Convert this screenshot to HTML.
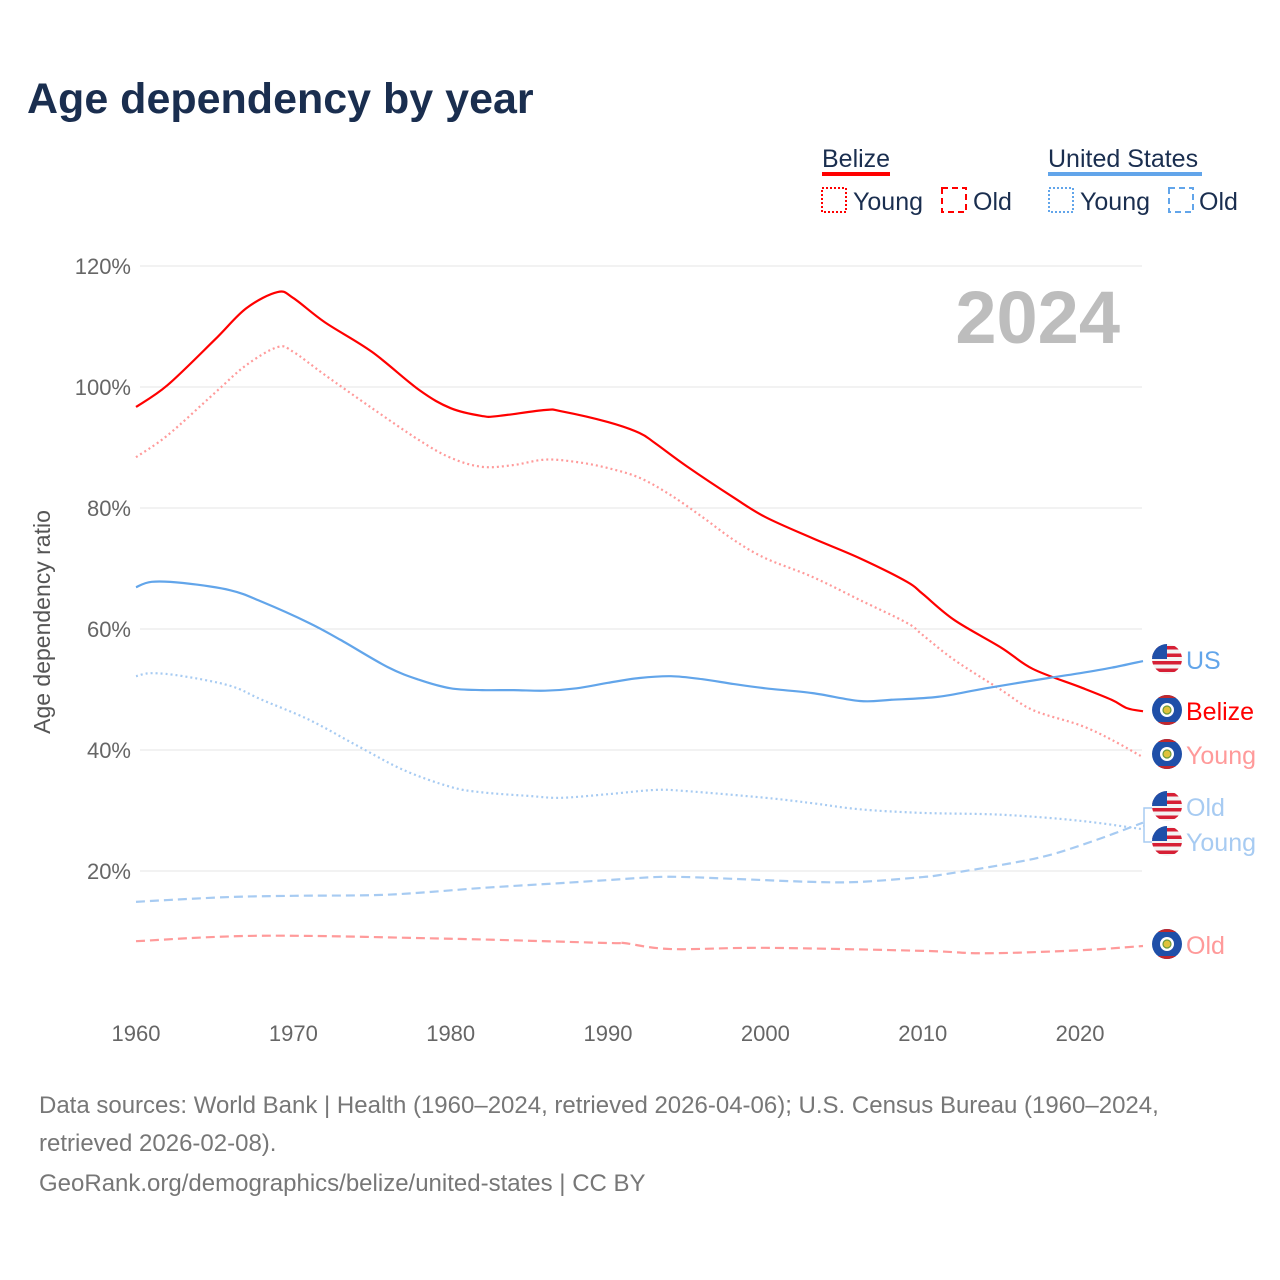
<!DOCTYPE html>
<html><head><meta charset="utf-8"><style>
body{margin:0;background:#fff;font-family:"Liberation Sans",sans-serif}
#wrap{position:relative;width:1280px;height:1280px;overflow:hidden}
</style></head><body>
<div id="wrap">
<svg id="chart" width="1280" height="1280" style="position:absolute;left:0;top:0">
<defs id="defs"></defs>
<text x="27" y="113" font-size="43" font-weight="bold" fill="#1a2e4f">Age dependency by year</text>
<g font-size="25" fill="#1a2e4f">
 <text x="822" y="167">Belize</text>
 <rect x="822" y="172" width="68" height="4" fill="#f00"/>
 <rect x="822" y="188" width="24" height="24" fill="none" stroke="#f00" stroke-width="2" stroke-dasharray="2 2"/>
 <text x="853" y="210">Young</text>
 <rect x="942" y="188" width="24" height="24" fill="none" stroke="#f00" stroke-width="2" stroke-dasharray="6 4"/>
 <text x="973" y="210">Old</text>
 <text x="1048" y="167">United States</text>
 <rect x="1048" y="172" width="154" height="4" fill="#62a5ea"/>
 <rect x="1049" y="188" width="24" height="24" fill="none" stroke="#62a5ea" stroke-width="2" stroke-dasharray="2 2"/>
 <text x="1080" y="210">Young</text>
 <rect x="1169" y="188" width="24" height="24" fill="none" stroke="#62a5ea" stroke-width="2" stroke-dasharray="6 4"/>
 <text x="1199" y="210">Old</text>
</g>
<text x="1120" y="343" font-size="74" font-weight="bold" fill="#bdbdbd" text-anchor="end">2024</text>
<text transform="translate(50,622) rotate(-90)" font-size="23" fill="#555" text-anchor="middle">Age dependency ratio</text>
<g id="grid"></g><g id="lines"></g><g id="ends"></g>
<g font-size="24" fill="#777">
<text x="39" y="1113">Data sources: World Bank | Health (1960–2024, retrieved 2026-04-06); U.S. Census Bureau (1960–2024,</text>
<text x="39" y="1151">retrieved 2026-02-08).</text>
<text x="39" y="1191">GeoRank.org/demographics/belize/united-states | CC BY</text>
</g>
</svg>
</div>
<script>
const yTicks=[20,40,60,80,100,120];
const xTicks=[1960,1970,1980,1990,2000,2010,2020];
const belizeTotalYears=[1960,1962,1965,1967,1969,1970,1972,1975,1978,1980,1982,1983,1986,1987,1990,1992,1993,1995,1998,2000,2003,2006,2009,2010,2012,2015,2017,2020,2022,2023,2024];
const belizeTotal=[96.7,100.3,107.8,113,115.7,114.7,110.7,105.8,99.5,96.5,95.2,95.2,96.2,96,94.2,92.4,90.7,86.9,81.7,78.5,75,71.7,67.8,65.8,61.5,56.9,53.4,50.4,48.3,46.9,46.4];
const belizeYoungYears=[1960,1962,1965,1967,1969,1970,1972,1975,1978,1980,1982,1984,1986,1988,1990,1992,1994,1996,1998,2000,2003,2006,2009,2010,2012,2015,2017,2020,2022,2024];
const belizeYoung=[88.4,92,99,103.6,106.6,105.8,102,96.5,91.2,88.3,86.8,87.1,88,87.6,86.6,85,82.1,78.5,74.7,71.7,68.6,64.8,61,59,54.9,49.9,46.6,44.1,41.7,38.8];
const belizeOldYears=[1960,1968,1980,1990,1991,1994,2000,2010,2014,2020,2024];
const belizeOld=[8.4,9.3,8.8,8.1,8.1,7.1,7.3,6.8,6.4,6.9,7.6];
const usTotalYears=[1960,1961,1963,1966,1968,1971,1973,1976,1978,1980,1982,1984,1986,1988,1990,1992,1994,1996,1998,2000,2003,2006,2008,2011,2014,2018,2020,2022,2024];
const usTotal=[66.9,67.8,67.6,66.4,64.5,61,58.2,53.7,51.6,50.2,49.9,49.9,49.8,50.2,51.1,51.9,52.2,51.7,50.9,50.2,49.4,48.1,48.3,48.8,50.2,51.9,52.7,53.6,54.7];
const usYoungYears=[1960,1961,1963,1966,1968,1971,1974,1977,1980,1982,1985,1987,1990,1993,1995,2000,2003,2006,2010,2015,2020,2024];
const usYoung=[52.2,52.7,52.2,50.6,48.3,45,40.8,36.7,33.9,33,32.4,32.1,32.7,33.4,33.2,32.1,31.2,30.2,29.6,29.3,28.3,26.9];
const usOldYears=[1960,1962,1966,1970,1975,1978,1982,1987,1990,1993,1995,1998,2003,2006,2010,2011,2015,2018,2021,2024];
const usOld=[14.9,15.2,15.7,15.9,16,16.4,17.2,18,18.5,19,19,18.7,18.2,18.2,19,19.3,21,22.6,25.1,28];
const endLabels=["US","Belize","Young","Old","Young","Old"];

const NS="http://www.w3.org/2000/svg";
const X=yr=>136+(yr-1960)*(1143-136)/64;
const Y=v=>992-v*6.05;
function mk(tag,attrs,parent){const e=document.createElementNS(NS,tag);for(const k in attrs)e.setAttribute(k,attrs[k]);parent.appendChild(e);return e;}
const grid=document.getElementById('grid');
yTicks.forEach(t=>{
 const l=mk('line',{x1:140,x2:1142,y1:Y(t),y2:Y(t),stroke:'#e6e6e6','stroke-width':1},grid);
 
 
 const tx=mk('text',{x:131,y:Y(t)+8,'text-anchor':'end','font-size':22,fill:'#666'},grid);
 tx.textContent=t+'%';
 
 
});
xTicks.forEach(t=>{
 const tx=mk('text',{x:X(t),y:1041,'text-anchor':'middle','font-size':22,fill:'#666'},grid);
 tx.textContent=t;
 
 
});
function path(xs,vs){
 const p=xs.map((x,i)=>[X(x),Y(vs[i])]);
 let d='M'+p[0][0]+','+p[0][1];
 for(let i=0;i<p.length-1;i++){
  const p0=p[Math.max(0,i-1)],p1=p[i],p2=p[i+1],p3=p[Math.min(p.length-1,i+2)];
  const c1=[p1[0]+(p2[0]-p0[0])/6,p1[1]+(p2[1]-p0[1])/6];
  const c2=[p2[0]-(p3[0]-p1[0])/6,p2[1]-(p3[1]-p1[1])/6];
  d+=' C'+c1+' '+c2+' '+p2;
 }
 return d;
}
const lines=document.getElementById('lines');
const series=[
 ['belize-total-line',belizeTotalYears,belizeTotal,'#ff0000',''],
 ['belize-young-line',belizeYoungYears,belizeYoung,'#ff9a9a','2 3'],
 ['belize-old-line',belizeOldYears,belizeOld,'#ff9a9a','9 5'],
 ['us-total-line',usTotalYears,usTotal,'#62a5ea',''],
 ['us-young-line',usYoungYears,usYoung,'#a7cbf2','2 3'],
 ['us-old-line',usOldYears,usOld,'#a7cbf2','9 5']
];
series.forEach(s=>{
 const e=mk('path',{d:path(s[1],s[2]),fill:'none',stroke:s[3],'stroke-width':2.2,'stroke-dasharray':s[4]},lines);
 
 
});
const ends=document.getElementById('ends');
const defs=document.getElementById('defs');
const labelYs=[660,711,755,807,842,945];
const colors=['#62a5ea','#ff0000','#ff9a9a','#a7cbf2','#a7cbf2','#ff9a9a'];
const isUS=[true,false,false,true,true,false];
endLabels.forEach((lab,i)=>{
 const cy=labelYs[i]-1,cx=1167;
 const cp=mk('clipPath',{id:'fc'+i},defs);
 mk('circle',{cx,cy,r:15},cp);
 const g=mk('g',{},ends);
 
 
 const f=mk('g',{'clip-path':'url(#fc'+i+')'},g);
 if(isUS[i]){
  mk('rect',{x:cx-15,y:cy-15,width:30,height:30,fill:'#f3f3f3'},f);
  for(let k=0;k<4;k++) mk('rect',{x:cx-15,y:cy-13+k*7.5,width:30,height:3.5,fill:'#d61f35'},f);
  mk('rect',{x:cx-15,y:cy-15,width:15,height:15,fill:'#1f4fa8'},f);
 } else {
  mk('rect',{x:cx-15,y:cy-15,width:30,height:30,fill:'#1f4fa8'},f);
  mk('rect',{x:cx-15,y:cy-15,width:30,height:3,fill:'#c1272d'},f);
  mk('rect',{x:cx-15,y:cy+12,width:30,height:3,fill:'#c1272d'},f);
  mk('circle',{cx,cy,r:7,fill:'#fff'},f);
  mk('circle',{cx,cy,r:4,fill:'#e0c23a',stroke:'#6a9a3a','stroke-width':1.2},f);
 }
 const t=mk('text',{x:1186,y:labelYs[i]+9,'font-size':25,fill:colors[i]},g);
 t.textContent=lab;
});
const c=mk('path',{d:'M1143,826 L1144,826 L1144,808 L1152,808 M1144,826 L1144,842 L1152,842',fill:'none',stroke:'#a7cbf2','stroke-width':1.5},ends);


</script>
</body></html>
